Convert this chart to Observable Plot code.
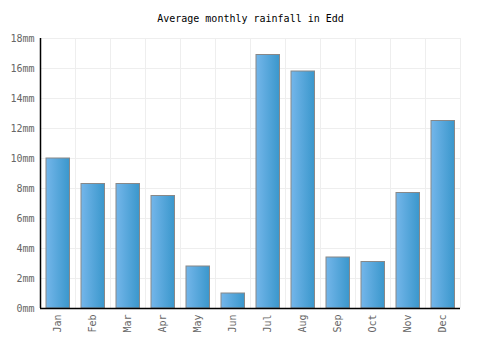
<!DOCTYPE html>
<html><head><meta charset="utf-8">
<script src="https://cdn.jsdelivr.net/npm/d3@7"></script>
<script src="https://cdn.jsdelivr.net/npm/@observablehq/plot@0.6"></script>
<style>body{margin:0;background:#fff}</style>
</head><body><div id="chart"></div>
<script>
const months = ["Jan","Feb","Mar","Apr","May","Jun","Jul","Aug","Sep","Oct","Nov","Dec"];
const rainfall = [10.0, 8.3, 8.3, 7.5, 2.8, 1.0, 16.9, 15.8, 3.4, 3.1, 7.7, 12.5];
const yTicks = [0,2,4,6,8,10,12,14,16,18];
const title = "Average monthly rainfall in Edd";

const data = months.map((m,i)=>({month:m, value:rainfall[i]}));

const chart = Plot.plot({
  width: 500, height: 350,
  marginLeft: 40, marginRight: 40, marginTop: 38, marginBottom: 42,
  style: {fontFamily: "'DejaVu Sans Mono', monospace", fontSize: "10px", background: "#fff"},
  x: {domain: months, padding: 0, label: null},
  y: {domain: [0,18], label: null},
  marks: [
    Plot.ruleY(yTicks, {stroke: "#eeeeee", strokeWidth: 1}),
    Plot.ruleX(months, {dx: 17.5, stroke: "#eeeeee", strokeWidth: 1}),
    Plot.barY(data, {x: "month", y: "value", fill: "url(#barGrad)", stroke: "#888888", strokeWidth: 1, insetLeft: 6, insetRight: 5.5}),
    Plot.axisY({ticks: yTicks, tickFormat: d => d + "mm", tickSize: 0, tickPadding: 6, fill: "#666", stroke: null}),
    Plot.axisX({tickSize: 0, tickPadding: 6, tickRotate: -90, fill: "#666"}),
    Plot.ruleY([0], {stroke: "#000", strokeWidth: 1.5}),
    Plot.ruleX(["Jan"], {dx: -17.5, stroke: "#000", strokeWidth: 1.5}),
    Plot.text([title], {frameAnchor: "top", dy: -24, fill: "#000", fontSize: 10})
  ]
});

const ns = "http://www.w3.org/2000/svg";
const defs = document.createElementNS(ns, "defs");
const lg = document.createElementNS(ns, "linearGradient");
lg.setAttribute("id", "barGrad");
lg.setAttribute("x1", "0"); lg.setAttribute("x2", "1"); lg.setAttribute("y1", "0"); lg.setAttribute("y2", "0");
[["0%","#74b6ea"],["100%","#3a97cc"]].forEach(([o,c])=>{
  const s = document.createElementNS(ns, "stop");
  s.setAttribute("offset", o); s.setAttribute("stop-color", c);
  lg.appendChild(s);
});
defs.appendChild(lg);
chart.insertBefore(defs, chart.firstChild);
document.getElementById("chart").appendChild(chart);
</script>
</body></html>
